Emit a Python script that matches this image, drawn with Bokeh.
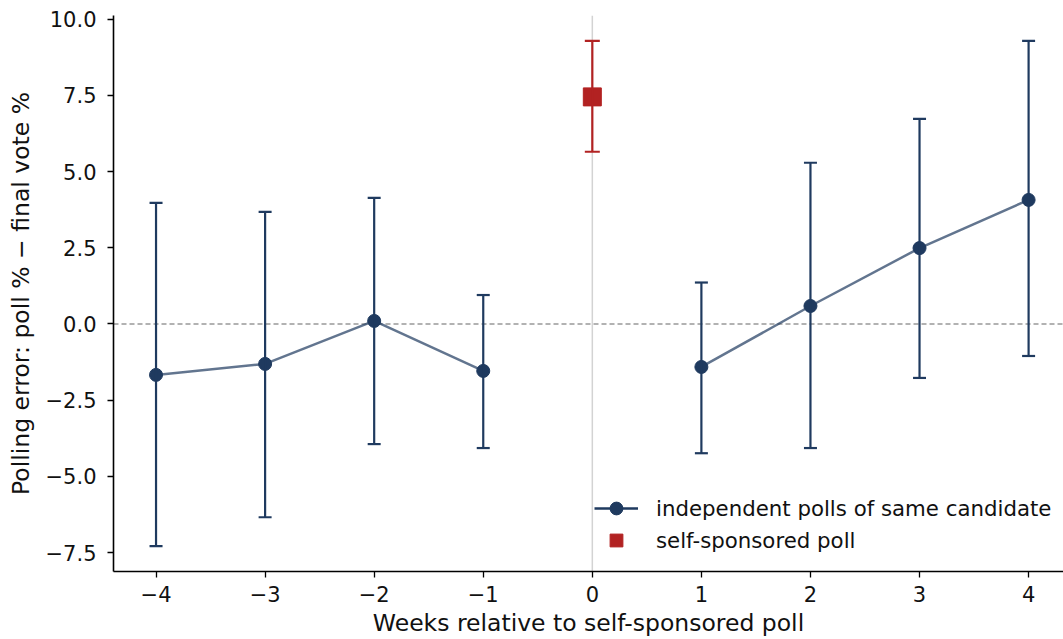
from bokeh.plotting import figure
from bokeh.models import (ColumnDataSource, Whisker, TeeHead, Span, Legend, LegendItem,
                          FixedTicker, Range1d)
from bokeh.embed import file_html
from bokeh.resources import INLINE

# ---- data ----
weeks_before = [-4, -3, -2, -1]
err_before = [-1.67, -1.31, 0.10, -1.54]
lo_before = [-7.29, -6.34, -3.94, -4.07]
hi_before = [3.97, 3.68, 4.14, 0.95]

weeks_after = [1, 2, 3, 4]
err_after = [-1.41, 0.59, 2.49, 4.07]
lo_after = [-4.24, -4.07, -1.77, -1.05]
hi_after = [1.36, 5.29, 6.73, 9.29]

self_week = [0]
self_err = [7.45]
self_lo = [5.65]
self_hi = [9.29]

x_ticks = [-4, -3, -2, -1, 0, 1, 2, 3, 4]
y_ticks = [-7.5, -5.0, -2.5, 0.0, 2.5, 5.0, 7.5, 10.0]

NAVY = "#1f3a5f"
RED = "#b22222"
FONT = "DejaVu Sans"
TICK_FS = "21px"
LEG_FS = "21.3px"
LAB_FS = "23.5px"


def fmt(v, dec):
    s = f"{abs(v):.{dec}f}"
    return ("\u2212" + s) if v < 0 else s


p = figure(width=1063, height=639, output_backend="svg", toolbar_location=None,
           x_range=Range1d(-4.39, 4.32), y_range=Range1d(-8.12, 10.12),
           min_border_left=113, min_border_right=0, min_border_top=15, min_border_bottom=68)
p.outline_line_color = None
p.grid.visible = False
p.background_fill_color = "white"

# reference lines
p.add_layout(Span(location=0, dimension="height", line_color="#d3d3d3", line_width=1.5,
                  level="underlay"))
p.add_layout(Span(location=0, dimension="width", line_color="#999999", line_width=1.3,
                  line_dash="5 3", level="underlay"))

src_b = ColumnDataSource(dict(x=weeks_before, y=err_before, lo=lo_before, hi=hi_before))
src_a = ColumnDataSource(dict(x=weeks_after, y=err_after, lo=lo_after, hi=hi_after))
src_s = ColumnDataSource(dict(x=self_week, y=self_err, lo=self_lo, hi=self_hi))

for src in (src_b, src_a):
    p.add_layout(Whisker(source=src, base="x", lower="lo", upper="hi",
                         line_color=NAVY, line_width=2.2, level="glyph",
                         upper_head=TeeHead(size=13, line_color=NAVY, line_width=2.2),
                         lower_head=TeeHead(size=13, line_color=NAVY, line_width=2.2)))
p.add_layout(Whisker(source=src_s, base="x", lower="lo", upper="hi",
                     line_color=RED, line_width=2.2, level="glyph",
                     upper_head=TeeHead(size=15, line_color=RED, line_width=2.2),
                     lower_head=TeeHead(size=15, line_color=RED, line_width=2.2)))

l1 = p.line("x", "y", source=src_b, line_color=NAVY, line_alpha=0.7, line_width=2.5)
l2 = p.line("x", "y", source=src_a, line_color=NAVY, line_alpha=0.7, line_width=2.5)
c1 = p.scatter("x", "y", source=src_b, size=13, marker="circle", fill_color=NAVY, line_color=NAVY)
c2 = p.scatter("x", "y", source=src_a, size=13, marker="circle", fill_color=NAVY, line_color=NAVY)
sq = p.scatter("x", "y", source=src_s, size=18, marker="square", fill_color=RED, line_color=RED)

# opaque line used only for the legend swatch (no visible data)
nan = float("nan")
leg_line = p.line(x=[nan], y=[nan], line_color=NAVY, line_width=2.5)

legend = Legend(items=[
    LegendItem(label="independent polls of same candidate", renderers=[leg_line, c1]),
    LegendItem(label="self-sponsored poll", renderers=[sq]),
], location=(481, 15), orientation="vertical")
legend.background_fill_alpha = 0
legend.border_line_color = None
legend.label_text_font = FONT
legend.label_text_font_size = LEG_FS
legend.label_text_color = "#111111"
legend.glyph_width = 44
legend.glyph_height = 32
legend.label_height = 32
legend.label_standoff = 18
legend.spacing = 0
legend.padding = 0
legend.margin = 0
p.add_layout(legend, "center")

# axes
p.xaxis.ticker = FixedTicker(ticks=x_ticks)
p.yaxis.ticker = FixedTicker(ticks=y_ticks)
p.xaxis.major_label_overrides = {t: fmt(t, 0) for t in x_ticks}
p.yaxis.major_label_overrides = {t: fmt(t, 1) for t in y_ticks}
p.xaxis.axis_label = "Weeks relative to self-sponsored poll"
p.yaxis.axis_label = "Polling error: poll % \u2212 final vote %"
for ax in (p.xaxis, p.yaxis):
    ax.axis_line_color = "black"
    ax.axis_line_width = 1.6
    ax.major_tick_line_color = "black"
    ax.major_tick_line_width = 1.3
    ax.major_tick_out = 6
    ax.major_tick_in = 0
    ax.minor_tick_line_color = None
    ax.major_label_text_font = FONT
    ax.major_label_text_font_size = TICK_FS
    ax.major_label_text_color = "#111111"
    ax.axis_label_text_font = FONT
    ax.axis_label_text_font_size = LAB_FS
    ax.axis_label_text_font_style = "normal"
    ax.axis_label_text_color = "#111111"
p.xaxis.major_label_standoff = 8
p.yaxis.major_label_standoff = 11
p.xaxis.axis_label_standoff = 4
p.yaxis.axis_label_standoff = 8

open("out.html", "w").write(file_html(p, INLINE))
